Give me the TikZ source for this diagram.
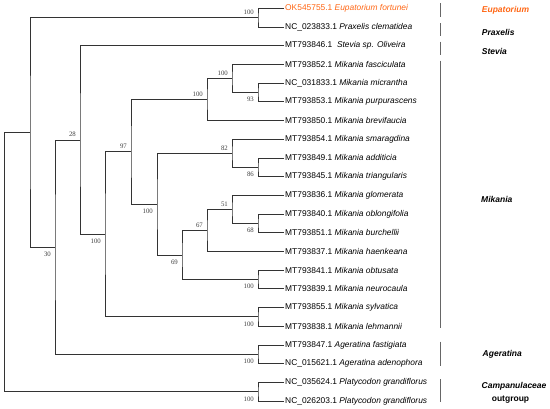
\documentclass[tikz,border=0pt]{standalone}
\usepackage{fontspec}
\setmainfont{Liberation Sans}
\newfontfamily\bsfont{Liberation Serif}
\definecolor{eup}{RGB}{255,102,20}
\begin{document}
\begin{tikzpicture}[x=1pt,y=-1pt,
  br/.style={draw=black!80,line width=0.75pt},
  leaf/.style={anchor=west,inner sep=1pt,font=\fontsize{8.4}{10}\selectfont},
  bsup/.style={anchor=south east,inner sep=0pt,font=\bsfont\fontsize{6.8}{8}\selectfont,text=black!75},
  bsdn/.style={anchor=north east,inner sep=0pt,font=\bsfont\fontsize{6.8}{8}\selectfont,text=black!75},
  grp/.style={anchor=west,inner sep=0pt,font=\fontsize{8.5}{10}\selectfont\bfseries\itshape},
  gbar/.style={draw=black!60,line width=0.8pt}]
\useasboundingbox (0,0) rectangle (550,409);
% leaves
\node[leaf,text=eup] (l0) at (284,8.3) {OK545755.1 \textit{Eupatorium fortunei}};
\node[leaf] (l1) at (284,27.0) {NC\_023833.1 \textit{Praxelis clematidea}};
\node[leaf] (l2) at (284,45.7) {MT793846.1\ \ \textit{Stevia sp. Oliveira}};
\node[leaf] (l3) at (284,64.4) {MT793852.1 \textit{Mikania fasciculata}};
\node[leaf] (l4) at (284,83.1) {NC\_031833.1 \textit{Mikania micrantha}};
\node[leaf] (l5) at (284,101.8) {MT793853.1 \textit{Mikania purpurascens}};
\node[leaf] (l6) at (284,120.5) {MT793850.1 \textit{Mikania brevifaucia}};
\node[leaf] (l7) at (284,139.2) {MT793854.1 \textit{Mikania smaragdina}};
\node[leaf] (l8) at (284,157.9) {MT793849.1 \textit{Mikania additicia}};
\node[leaf] (l9) at (284,176.6) {MT793845.1 \textit{Mikania triangularis}};
\node[leaf] (l10) at (284,195.3) {MT793836.1 \textit{Mikania glomerata}};
\node[leaf] (l11) at (284,214.0) {MT793840.1 \textit{Mikania oblongifolia}};
\node[leaf] (l12) at (284,232.7) {MT793851.1 \textit{Mikania burchellii}};
\node[leaf] (l13) at (284,251.4) {MT793837.1 \textit{Mikania haenkeana}};
\node[leaf] (l14) at (284,270.1) {MT793841.1 \textit{Mikania obtusata}};
\node[leaf] (l15) at (284,288.8) {MT793839.1 \textit{Mikania neurocaula}};
\node[leaf] (l16) at (284,307.5) {MT793855.1 \textit{Mikania sylvatica}};
\node[leaf] (l17) at (284,326.2) {MT793838.1 \textit{Mikania lehmannii}};
\node[leaf] (l18) at (284,344.9) {MT793847.1 \textit{Ageratina fastigiata}};
\node[leaf] (l19) at (284,363.6) {NC\_015621.1 \textit{Ageratina adenophora}};
\node[leaf] (l20) at (284,382.3) {NC\_035624.1 \textit{Platycodon grandiflorus}};
\node[leaf] (l21) at (284,401.0) {NC\_026203.1 \textit{Platycodon grandiflorus}};
% internal nodes
\coordinate (P0) at (258,17.65);
\coordinate (P1) at (258,92.45);
\coordinate (P2) at (258,167.25);
\coordinate (P3) at (258,223.35);
\coordinate (P4) at (258,279.45);
\coordinate (P5) at (258,316.85);
\coordinate (P6) at (258,354.25);
\coordinate (P7) at (258,391.65);
\coordinate (H) at (232,78.4);
\coordinate (F) at (207,99.45);
\coordinate (M) at (232,209.3);
\coordinate (L) at (207,230.35);
\coordinate (K) at (182,254.9);
\coordinate (J) at (232,153.2);
\coordinate (G) at (157,204.05);
\coordinate (E) at (131,151.75);
\coordinate (D) at (105,234.3);
\coordinate (C) at (80,140.0);
\coordinate (B) at (55,247.1);
\coordinate (A) at (30,132.4);
\coordinate (R) at (4.7,262.0);
% branches
\draw[br] (l0.west) -| (P0) |- (l1.west);
\draw[br] (l4.west) -| (P1) |- (l5.west);
\draw[br] (l8.west) -| (P2) |- (l9.west);
\draw[br] (l11.west) -| (P3) |- (l12.west);
\draw[br] (l14.west) -| (P4) |- (l15.west);
\draw[br] (l16.west) -| (P5) |- (l17.west);
\draw[br] (l18.west) -| (P6) |- (l19.west);
\draw[br] (l20.west) -| (P7) |- (l21.west);
\draw[br] (l3.west) -| (H) |- (P1);
\draw[br] (H) -| (F) |- (l6.west);
\draw[br] (l10.west) -| (M) |- (P3);
\draw[br] (M) -| (L) |- (l13.west);
\draw[br] (L) -| (K) |- (P4);
\draw[br] (l7.west) -| (J) |- (P2);
\draw[br] (J) -| (G) |- (K);
\draw[br] (F) -| (E) |- (G);
\draw[br] (E) -| (D) |- (P5);
\draw[br] (l2.west) -| (C) |- (D);
\draw[br] (C) -| (B) |- (P6);
\draw[br] (P0) -| (A) |- (B);
\draw[br] (A) -| (R) |- (P7);
% bootstrap values
\node[bsup] at ([xshift=-4pt,yshift=2.9pt]P0) {100};
\node[bsdn] at ([xshift=-4pt,yshift=-4.7pt]P1) {93};
\node[bsdn] at ([xshift=-4pt,yshift=-4.7pt]P2) {86};
\node[bsdn] at ([xshift=-4pt,yshift=-4.7pt]P3) {68};
\node[bsdn] at ([xshift=-4pt,yshift=-4.7pt]P4) {100};
\node[bsdn] at ([xshift=-4pt,yshift=-4.7pt]P5) {100};
\node[bsdn] at ([xshift=-4pt,yshift=-4.7pt]P6) {100};
\node[bsdn] at ([xshift=-4pt,yshift=-4.7pt]P7) {100};
\node[bsup] at ([xshift=-4pt,yshift=2.9pt]H) {100};
\node[bsup] at ([xshift=-4pt,yshift=2.9pt]F) {100};
\node[bsup] at ([xshift=-4pt,yshift=2.9pt]M) {51};
\node[bsup] at ([xshift=-4pt,yshift=2.9pt]L) {67};
\node[bsdn] at ([xshift=-4pt,yshift=-4.7pt]K) {69};
\node[bsup] at ([xshift=-4pt,yshift=2.9pt]J) {82};
\node[bsdn] at ([xshift=-4pt,yshift=-4.7pt]G) {100};
\node[bsup] at ([xshift=-4pt,yshift=2.9pt]E) {97};
\node[bsdn] at ([xshift=-4pt,yshift=-4.7pt]D) {100};
\node[bsup] at ([xshift=-4pt,yshift=2.9pt]C) {28};
\node[bsdn] at ([xshift=-4pt,yshift=-4.7pt]B) {30};
% group bars
\draw[gbar] (440.7,3.3) -- (440.7,16.7);
\draw[gbar] (440.7,23.3) -- (440.7,36);
\draw[gbar] (440.7,41.7) -- (440.7,55);
\draw[gbar] (440.7,60.7) -- (440.7,328);
\draw[gbar] (440.7,341.7) -- (440.7,366);
\draw[gbar] (440.7,379.3) -- (440.7,402.3);
% group labels
\node[grp,text=eup] (gE) at (481.7,10) {Eupatorium};
\node[grp] (gP) at (481.7,32.3) {Praxelis};
\node[grp] (gS) at (481.7,51) {Stevia};
\node[grp] (gM) at (481,199) {Mikania};
\node[grp] (gA) at (482.5,354) {Ageratina};
\node[grp] (gC) at (481.5,386) {Campanulaceae};
\node[anchor=center,inner sep=0pt,font=\fontsize{8.5}{10}\selectfont\bfseries] (gO) at (510.5,400) {outgroup};
\end{tikzpicture}
\end{document}
